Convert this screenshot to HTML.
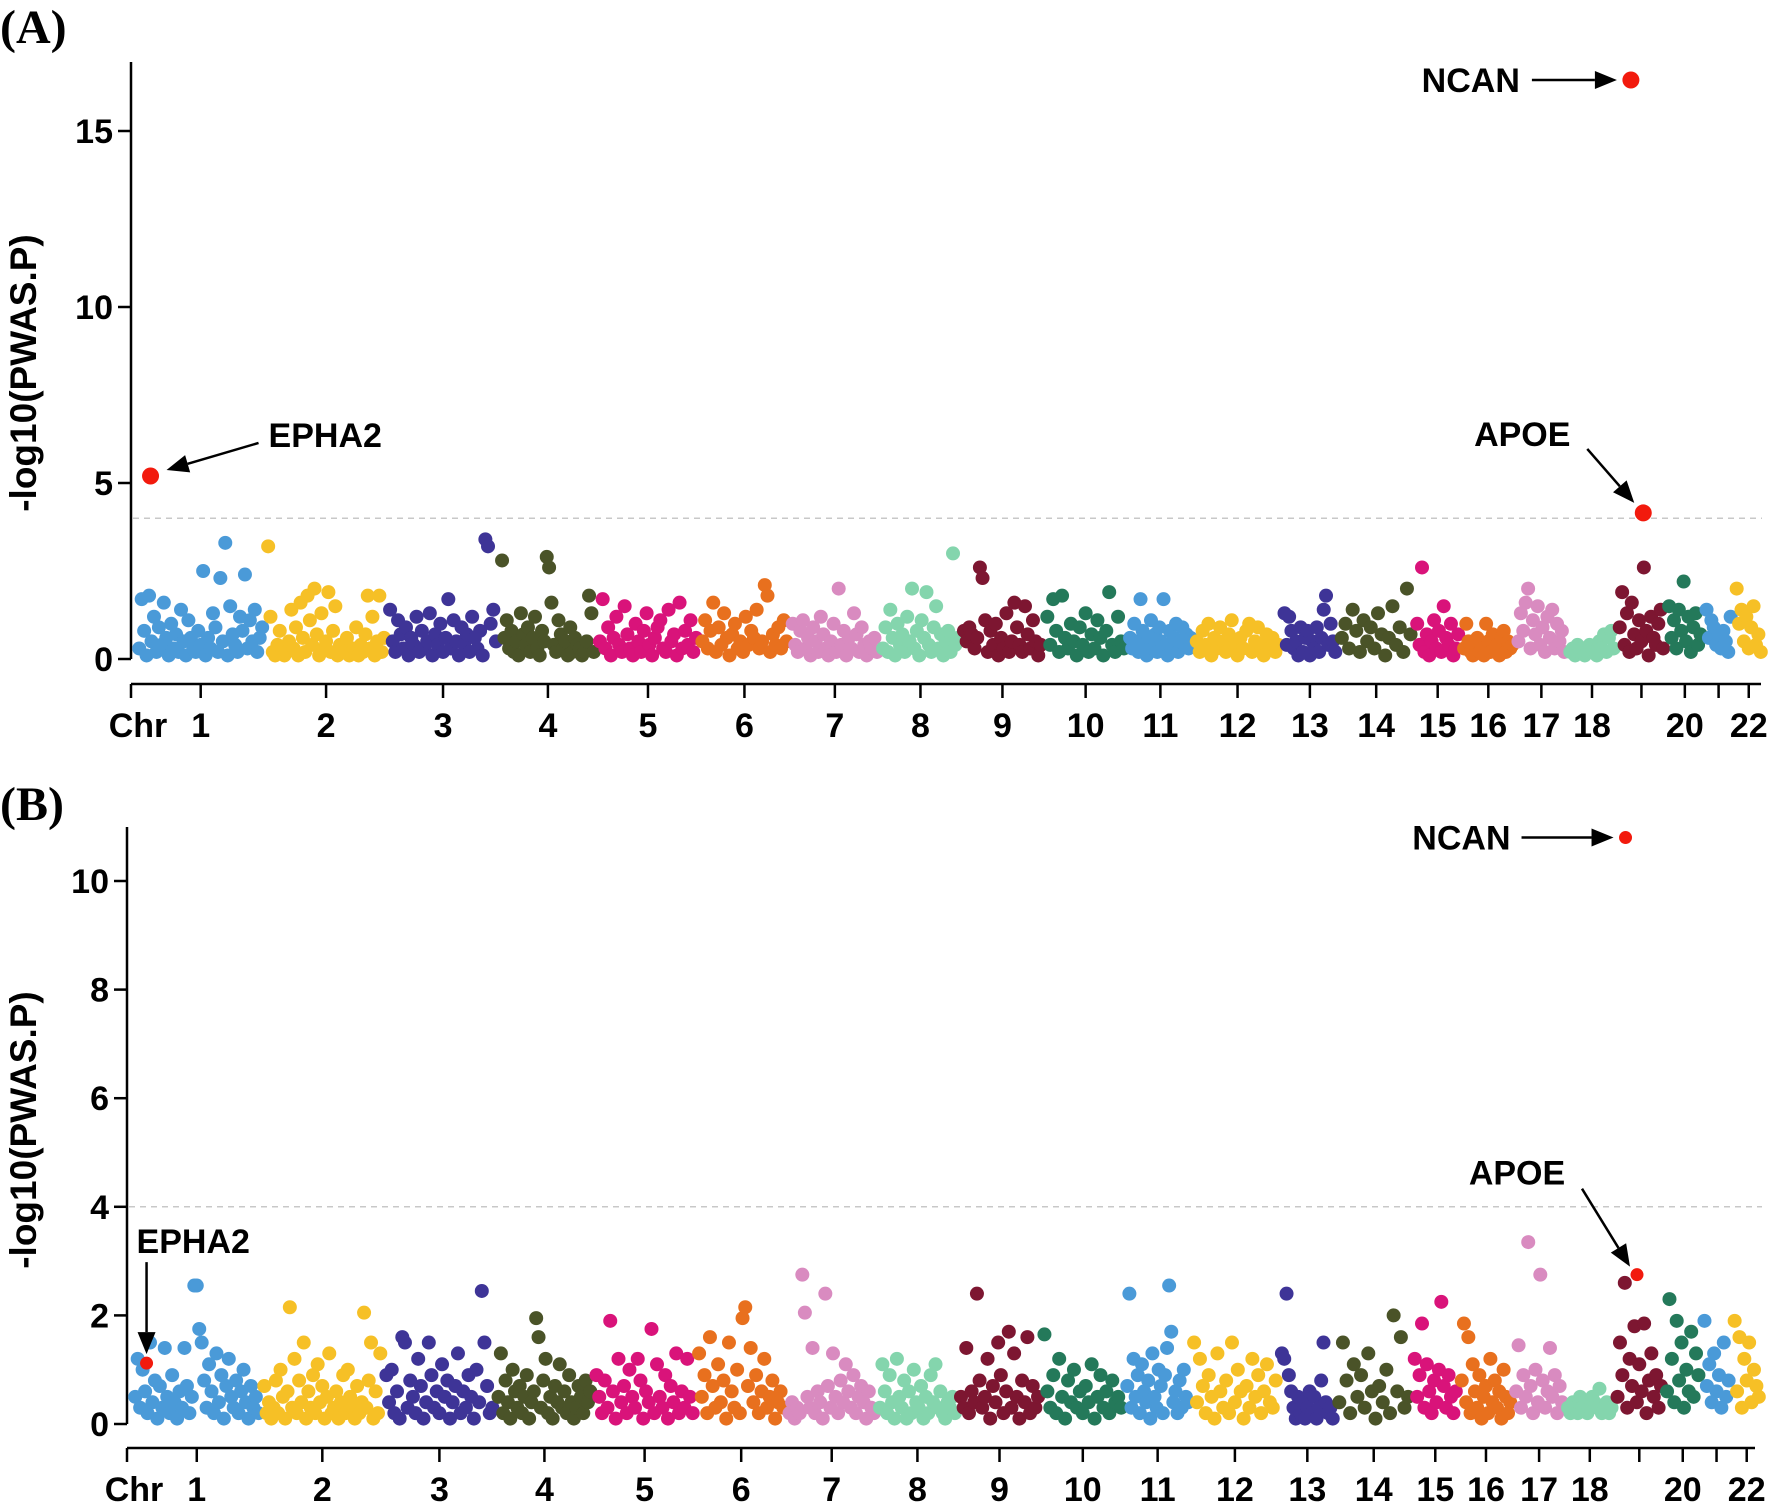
<!DOCTYPE html>
<html><head><meta charset="utf-8"><style>
html,body{margin:0;padding:0;background:#fff;}
svg{display:block;font-family:"Liberation Sans",Arial,sans-serif;}
</style></head><body>
<svg id="chart" width="1772" height="1504" viewBox="0 0 1772 1504" xmlns="http://www.w3.org/2000/svg">
<text x="0" y="43" font-family="Liberation Serif,serif" font-weight="bold" font-size="48">(A)</text>
<text x="0" y="820" font-family="Liberation Serif,serif" font-weight="bold" font-size="48">(B)</text>
<g id="gA"></g>
<g id="gB"></g>
</svg>
<script>
const chromLabels=["1","2","3","4","5","6","7","8","9","10","11","12","13","14","15","16","17","18","","20","","22"];
const chromSizes=[52,49,45,39,41,36,36,32,33,33,26,35,22,30,18,21,20,19,19,14,11,11];
const chromColors=["#4a9ad8","#f6c026","#3e3497","#4a5328","#d9137a","#e8701e","#d98bc0","#84d5ad","#7d1631","#24795a"];
const ticksA=[0,5,10,15];
const ticksB=[0,2,4,6,8,10];
const valuesA=[
[.3,1.7,.8,.1,1.8,.5,1.2,.2,.9,.4,1.6,.6,.1,1,.3,.7,.2,1.4,.5,.1,1.1,.6,.3,.2,.8,.4,2.5,.1,.6,.3,1.3,.9,.2,2.3,.5,3.3,.1,1.5,.7,.4,.2,1.2,.8,2.4,.3,1.1,.5,1.4,.2,.6,.9],
[3.2,1.2,.2,.1,.4,.8,.3,.1,.2,.5,1.4,.3,.9,.1,1.6,.6,.2,1.8,1.1,.4,2,.7,.1,1.3,.3,.5,1.9,.2,.8,1.5,.1,.4,.3,.2,.6,.1,.2,.3,.9,.1,.4,.2,.7,1.8,.3,1.2,.1,.5,1.8,.2,.6],
[1.4,.5,.2,1.1,.7,.3,.9,.1,.6,.4,1.2,.2,.8,.3,.5,1.3,.1,.7,.4,1,.2,.6,1.7,.3,1.1,.5,.1,.9,.4,.7,.2,1.2,.6,.3,.8,.1,3.4,3.2,1,1.4,.5],
[2.8,.6,1.1,.3,.8,.2,.5,.1,1.3,.7,.4,.9,.2,.6,1.2,.3,.1,.8,.5,2.9,2.6,1.6,.4,.2,1.1,.7,.3,.5,.1,.9,.2,.6,.4,.3,.1,.2,.5,1.8,1.3,.2],
[.5,1.7,.3,.9,.1,.6,1.2,.4,.2,1.5,.7,.3,.1,1,.5,.2,.8,1.3,.4,.1,.6,.9,1.1,.3,.2,1.4,.5,.7,.1,1.6,.3,.8,.4,1.1,.2,.6],
[.5,1.1,.3,.8,1.6,.2,.9,.4,1.3,.6,.1,.7,1,.3,.5,.2,1.2,.4,.8,.6,1.4,.3,.5,2.1,1.8,.2,.7,.4,.9,.3,1.1,.5],
[1,.4,.2,.8,1.1,.3,.6,.1,.9,.5,.2,1.2,.7,.3,.1,.5,1,.2,2,.4,.8,.1,.6,.3,1.3,.7,.2,.9,.4,.1,.5,.3,.6,.2],
[.3,.9,.2,1.4,.6,.1,1,.4,.7,.2,1.2,.5,2,.3,.8,.1,1.1,.6,1.9,.4,.2,.9,1.5,.3,.7,.1,.5,.8,.2,3,.4,.6],
[.8,.5,.9,.7,.3,.6,2.6,2.3,1.1,.2,.8,.4,1,.1,.6,.3,1.3,.2,.5,1.6,.9,.4,.2,1.5,.7,.3,1.1,.5,.1,.4],
[1.2,.4,1.7,.8,.2,1.8,.6,.3,1,.5,.1,.9,.4,1.3,.2,.7,.3,1.1,.6,.1,.8,1.9,.4,.2,1.2,.5,.3],
[.6,.3,1,.5,.2,1.7,.8,.4,.1,.6,1.1,.3,.7,.2,.9,.5,1.7,.4,.1,.8,.3,.6,1,.2,.5,.9,.4,.7,.3,.6],
[.5,.2,.8,.4,1,.1,.6,.3,.9,.5,.2,.7,1.1,.4,.1,.6,.3,.8,1,.2,.5,.9,.4,.1,.7,.3,.6,.2,.4],
[1.3,.4,1.2,.8,.3,.5,.1,.9,.2,.6,.8,.1,.5,.3,.9,.2,.6,1.4,1.8,.4,1,.5,.2],
[.6,1,.3,1.4,.8,.2,1.1,.5,.9,.3,1.3,.7,.1,.6,1.5,.4,.9,.2,2,.7],
[1,.4,2.6,.2,.7,.1,.5,1.1,.3,.8,.2,1.5,.6,.4,1,.1,.3,.7],
[.3,1,.5,.2,.1,.4,.6,.2,.3,.1,1,.5,.2,.7,.3,.4,.1,.6,.8,.2,.5,.3,.4],
[.5,1.3,.8,1.6,2,.3,1.1,.7,1.5,.4,.9,.2,1.2,.6,1.4,.3,1,.5,.8,.2],
[.2,.3,.1,.4,.2,.3,.1,.2,.4,.3,.2,.1,.5,.3,.7,.2,.6,.8,.3],
[.9,1.9,.4,1.3,.2,1.6,.7,.3,1.1,.5,2.6,.8,.1,1.2,.6,.4,1,1.4,.3],
[1.5,.6,1.1,.3,1.4,.8,2.2,.5,1.2,.2,.9,1.3,.4,.7],
[1.4,.6,1.1,.9,.4,.7,.3,.8,.5,.2,1.2],
[2,1,1.4,.5,1.2,.3,.9,1.5,.4,.7,.2]
];
const valuesB=[
[.5,1.2,.3,1,.6,.2,1.5,.4,.8,.1,.7,.3,1.4,.5,.2,.9,.4,.1,.6,.3,1.4,.7,.2,.5,2.55,2.55,1.75,1.5,.8,.3,1.1,.6,.2,1.3,.4,.9,.1,.7,1.2,.5,.3,.8,.2,.6,1,.4,.1,.7,.3,.5,.2],
[.7,.2,.4,.1,.3,.8,.2,1,.5,.1,.6,2.15,.3,1.2,.2,.8,.4,1.5,.1,.6,.3,.9,.2,1.1,.4,.7,.1,.5,1.3,.2,.3,.6,.1,.4,.9,.2,1,.5,.3,.1,.7,.2,.4,2.05,.3,.8,1.5,.1,.6,.2,1.3],
[.9,.4,1,.2,.6,.1,1.6,1.5,.3,.8,.5,.2,1.2,.7,.1,.4,1.5,.9,.3,.6,.2,1.1,.5,.8,.1,.4,.7,1.3,.2,.6,.3,.9,.5,.1,1,.4,2.45,1.5,.7,.2,.3],
[.5,1.3,.2,.8,.4,.1,1,.6,.3,.7,.2,.5,.9,.1,.4,.6,1.95,1.6,.3,.8,1.2,.2,.5,.1,.7,.4,1.1,.3,.6,.2,.9,.4,.1,.3,.7,.5,.2,.8,.4,.6],
[.9,.5,.2,.8,.3,1.9,.6,.1,1.2,.4,.7,.2,1,.5,.3,1.2,.8,.1,.6,.4,1.75,.2,1.1,.5,.3,.9,.1,.7,.4,1.3,.2,.6,.3,1.2,.5,.2],
[1.3,.5,.9,.2,1.6,.7,.3,1.1,.4,.8,.1,1.5,.6,.3,1,.2,1.95,2.15,.7,1.4,.4,.9,.2,.6,1.2,.3,.5,.8,.1,.4,.6,.3],
[.2,.4,.1,.3,.2,2.75,2.05,.5,.3,1.4,.2,.6,.4,.1,2.4,.7,.3,1.3,.5,.2,.8,.4,1.1,.6,.3,.9,.2,.5,.7,.4,.1,.6,.3,.2],
[.3,1.1,.6,.2,.9,.4,.1,1.2,.5,.3,.8,.1,.6,.2,1,.4,.3,.7,.1,.5,.2,.9,.4,1.1,.3,.6,.2,.1,.4,.3,.5,.2],
[.5,.3,1.4,.2,.6,.4,2.4,.8,.3,.5,1.2,.1,.7,.4,1.5,.9,.2,.6,1.7,.3,1.3,.5,.1,.8,.4,1.6,.2,.7,.3,.5],
[1.65,.6,.3,.9,.2,1.2,.5,.1,.8,.4,1,.3,.6,.2,.7,.4,1.1,.1,.5,.9,.3,.6,.2,.8,.4,.5,.3],
[.7,2.4,.3,1.2,.5,.9,.2,1.1,.6,.4,.8,.1,1.3,.5,.3,1,.7,.2,.9,1.4,2.55,1.7,.4,.6,.2,.8,.3,1,.5,.4],
[1.5,.4,1.2,.7,.2,.9,.5,.1,1.3,.6,.3,.8,.2,1.5,.4,1,.6,.1,.7,.3,1.2,.5,.9,.2,.6,1.1,.4,.3,.8],
[1.3,1.2,2.4,.9,.6,.3,.1,.5,.2,.4,.1,.3,.6,.2,.5,.1,.3,.8,1.5,.4,.2,.3,.1],
[.4,1.5,.8,.2,1.1,.5,.9,.3,1.3,.6,.1,.7,.4,1,.2,2,.6,1.6,.3,.5],
[1.2,.5,.9,1.85,.3,1.1,.6,.2,.8,.4,1,2.25,.7,.3,.9,.5,.2,.6],
[.8,1.85,.4,1.6,.2,1.1,.6,.3,.9,.1,.5,.7,.2,1.2,.4,.8,.3,.6,.1,1,.5,.2,.4],
[.6,1.45,.3,.9,.5,3.35,.7,.2,1,.4,2.75,.8,.3,.6,1.4,.5,.9,.2,.7,.4],
[.3,.2,.4,.3,.2,.5,.3,.4,.2,.3,.5,.4,.3,.65,.2,.3,.4,.2,.3],
[.5,1.5,.9,2.6,.3,1.2,.7,1.8,.4,1.1,.6,1.85,.2,.8,1.3,.5,.9,.3,.7],
[.6,2.3,1.2,.4,1.9,.8,1.5,.3,1,.6,1.7,.5,1.3,.9],
[1.9,.7,1.1,.4,1.3,.6,.9,.3,1.5,.5,.8],
[1.9,.6,1.6,.3,1.2,.8,1.5,.4,1,.7,.5]
];
const hitNames=["EPHA2","APOE","NCAN"];
const hitChroms=[1,19,19];
const hitFracsA=[0.1,0.54,0.27];
const hitValuesA=[5.2,4.15,16.45];
const hitFracsB=[0.1,0.45,0.2];
const hitValuesB=[1.12,2.75,10.8];

const NS="http://www.w3.org/2000/svg";
function mk(parent,tag,attrs){const e=document.createElementNS(NS,tag);for(const k in attrs)e.setAttribute(k,attrs[k]);parent.appendChild(e);return e;}
const GAP=1.5;
const starts=[];let acc=0;chromSizes.forEach((s,i)=>{starts.push(acc);acc+=s+(i<chromSizes.length-1?GAP:0);});
const total=acc;

function panel(g,cfg,values,ticks,hitFracs,hitValues){
  const xs=i=>cfg.x0+(i/total)*(cfg.x1-cfg.x0);
  const ys=v=>cfg.y0-(v-0)*cfg.k;
  let e=mk(g,"line",{x1:cfg.ax,y1:cfg.top,x2:cfg.ax,y2:ys(0),stroke:"#000","stroke-width":2.5});
  
  
  ticks.forEach(t=>{
    const tl=mk(g,"line",{x1:cfg.ax-13,y1:ys(t),x2:cfg.ax,y2:ys(t),stroke:"#000","stroke-width":2.5});
    
    
    const tx=mk(g,"text",{x:cfg.ax-18,y:ys(t)+12,"text-anchor":"end","font-size":34,"font-weight":"bold"});
    tx.textContent=t;
    
    
  });
  const yl=mk(g,"text",{x:0,y:0,transform:`translate(36,${cfg.ylabY}) rotate(-90)`,"text-anchor":"middle","font-size":37,"font-weight":"bold"});
  yl.textContent="-log10(PWAS.P)";
  
  
  const th=mk(g,"line",{x1:cfg.ax+2,y1:ys(4),x2:1762,y2:ys(4),stroke:"#c8c8c8","stroke-width":1.5,"stroke-dasharray":"6,5"});
  
  
  const xa=mk(g,"line",{x1:cfg.ax,y1:cfg.xaxY,x2:cfg.xEnd,y2:cfg.xaxY,stroke:"#000","stroke-width":2.5});
  
  
  const t0=mk(g,"line",{x1:cfg.ax,y1:cfg.xaxY,x2:cfg.ax,y2:cfg.xaxY+14,stroke:"#000","stroke-width":2.5});
  
  
  const chr=mk(g,"text",{x:cfg.ax+7,y:cfg.xaxY+53,"text-anchor":"middle","font-size":34,"font-weight":"bold"});
  chr.textContent="Chr";
  
  
  chromSizes.forEach((s,c)=>{
    const cx=xs(starts[c]+s/2);
    const tk=mk(g,"line",{x1:cx,y1:cfg.xaxY,x2:cx,y2:cfg.xaxY+14,stroke:"#000","stroke-width":2.5});
    
    
    if(chromLabels[c]){
      const lt=mk(g,"text",{x:cx,y:cfg.xaxY+53,"text-anchor":"middle","font-size":34,"font-weight":"bold"});
      lt.textContent=chromLabels[c];
      
      
    }
  });
  values.forEach((arr,c)=>{
    const col=chromColors[c%10];
    arr.forEach((v,i)=>{
      const p=mk(g,"circle",{cx:xs(starts[c]+(i+0.5)/arr.length*chromSizes[c]),cy:ys(v),r:7,fill:col});
      
      
    });
  });
  const pos=[];
  hitNames.forEach((n,h)=>{
    const c=hitChroms[h]-1;
    const hx=xs(starts[c]+hitFracs[h]*chromSizes[c]), hy=ys(hitValues[h]);
    pos.push([hx,hy]);
    const d=mk(g,"circle",{cx:hx,cy:hy,r:cfg.hitR,fill:"#f21a0d"});
    
    
  });
  cfg.ann(g,pos);
}
function arrow(g,x1,y1,x2,y2,name){
  const ang=Math.atan2(y2-y1,x2-x1),L=22,W=9;
  const bx=x2-L*Math.cos(ang),by=y2-L*Math.sin(ang);
  const l=mk(g,"line",{x1:x1,y1:y1,x2:bx,y2:by,stroke:"#000","stroke-width":2.5});
  
  
  const px=-Math.sin(ang)*W,py=Math.cos(ang)*W;
  const hd=mk(g,"polygon",{points:`${x2},${y2} ${bx+px},${by+py} ${bx-px},${by-py}`,fill:"#000"});
  
  
}
function label(g,x,y,txt,anchor){
  const t=mk(g,"text",{x:x,y:y,"text-anchor":anchor,"font-size":34,"font-weight":"bold"});
  t.textContent=txt;
  
  
}
panel(document.getElementById("gA"),{x0:138,x1:1762,y0:659,k:35.2,ax:131,top:62,xaxY:684,xEnd:1761,ylabY:373,hitR:8.5,
 ann:(g,p)=>{
  const [e,a,n]=p;
  label(g,e[0]+118,e[1]-29,"EPHA2","start"); arrow(g,e[0]+108,e[1]-33,e[0]+16,e[1]-6,"epha2");
  label(g,a[0]-121,a[1]-67,"APOE","middle"); arrow(g,a[0]-56,a[1]-64,a[0]-9,a[1]-10,"apoe");
  label(g,n[0]-111,n[1]+12,"NCAN","end"); arrow(g,n[0]-99,n[1],n[0]-14,n[1],"ncan");
 }},valuesA,ticksA,hitFracsA,hitValuesA);
panel(document.getElementById("gB"),{x0:134,x1:1760,y0:1424,k:54.3,ax:127,top:827,xaxY:1448,xEnd:1755,ylabY:1130,hitR:6.5,
 ann:(g,p)=>{
  const [e,a,n]=p;
  label(g,e[0]-10,e[1]-110,"EPHA2","start"); arrow(g,e[0],e[1]-101,e[0],e[1]-9,"epha2");
  label(g,a[0]-120,a[1]-90,"APOE","middle"); arrow(g,a[0]-55,a[1]-86,a[0]-7,a[1]-8,"apoe");
  label(g,n[0]-115,n[1]+12,"NCAN","end"); arrow(g,n[0]-104,n[1],n[0]-12,n[1],"ncan");
 }},valuesB,ticksB,hitFracsB,hitValuesB);
</script>
</body></html>
